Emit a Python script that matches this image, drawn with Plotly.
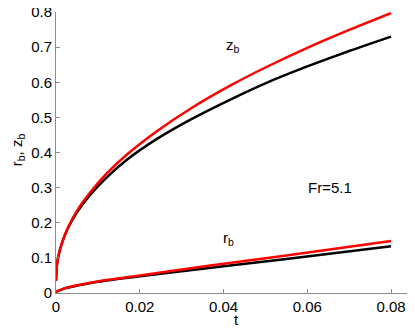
"""Bubble growth r_b, z_b versus t (Fr=5.1), redrawn with Plotly."""

import plotly.graph_objects as go

# z_b curves
t_z = [0, 0.0002, 0.0005, 0.001, 0.002, 0.003, 0.005, 0.008, 0.012, 0.017,
       0.024, 0.032, 0.042, 0.05, 0.06, 0.07, 0.08]
z_red = [0.035, 0.077, 0.100, 0.126, 0.162, 0.190, 0.234, 0.284, 0.339, 0.395,
         0.460, 0.524, 0.593, 0.642, 0.698, 0.749, 0.797]
z_black = [0.035, 0.077, 0.100, 0.126, 0.161, 0.188, 0.230, 0.277, 0.328, 0.380,
           0.438, 0.493, 0.553, 0.597, 0.645, 0.689, 0.730]

# r_b curves
t_r = [0, 0.002, 0.005, 0.01, 0.02, 0.03, 0.04, 0.055, 0.08]
r_red = [0.003, 0.013, 0.022, 0.033, 0.050, 0.067, 0.083, 0.107, 0.148]
r_black = [0.003, 0.013, 0.021, 0.032, 0.048, 0.062, 0.076, 0.097, 0.133]

x_ticks = [0, 0.02, 0.04, 0.06, 0.08]
y_ticks = [0, 0.1, 0.2, 0.3, 0.4, 0.5, 0.6, 0.7, 0.8]

FONT = "Liberation Sans, Arial, sans-serif"
AXIS_GREY = "#8c8c8c"

fig = go.Figure()
for t, black, red in [(t_z, z_black, z_red), (t_r, r_black, r_red)]:
    fig.add_trace(go.Scatter(x=t, y=black, mode="lines", line=dict(color="black", width=2.5, shape="spline", smoothing=0.6)))
    fig.add_trace(go.Scatter(x=t, y=red, mode="lines", line=dict(color="red", width=2.5, shape="spline", smoothing=0.6)))

labels = [
    (0.0423, 0.706, "z<sub>b</sub>"),
    (0.0413, 0.155, "r<sub>b</sub>"),
    (0.0654, 0.299, "Fr=5.1"),
]
for x, y, txt in labels:
    fig.add_annotation(x=x, y=y, text=txt, showarrow=False,
                       font=dict(family=FONT, size=15, color="black"))

# axis titles placed by hand so the plot area stays where the reference has it
fig.add_annotation(xref="paper", yref="paper", x=0.506, y=-0.095, text="t", showarrow=False,
                   xanchor="center", yanchor="middle",
                   font=dict(family=FONT, size=15, color="black"))
fig.add_annotation(xref="paper", yref="paper", x=-0.106, y=0.509, text="r<sub>b</sub>, z<sub>b</sub>",
                   textangle=-90, showarrow=False, xanchor="center", yanchor="middle",
                   font=dict(family=FONT, size=15, color="black"))

axis_common = dict(
    showgrid=False,
    zeroline=False,
    showline=True,
    linecolor=AXIS_GREY,
    linewidth=1,
    ticks="inside",
    ticklen=4,
    tickcolor=AXIS_GREY,
    automargin=False,
    ticklabeloverflow="allow",
    tickfont=dict(family=FONT, size=15, color="black"),
)

# the page body has an 8px margin, so the figure is sized to fill the rest of the window
fig.update_layout(
    width=407,
    height=323,
    showlegend=False,
    paper_bgcolor="white",
    plot_bgcolor="white",
    margin=dict(l=48, r=3, t=4, b=38),
    xaxis=dict(range=[0, 0.085], tickvals=x_ticks, ticktext=[f"{v:g}" for v in x_ticks], **axis_common),
    yaxis=dict(range=[0, 0.8], tickvals=y_ticks, ticktext=[f"{v:g}" for v in y_ticks], **axis_common),
)

fig.write_html("out.html")
